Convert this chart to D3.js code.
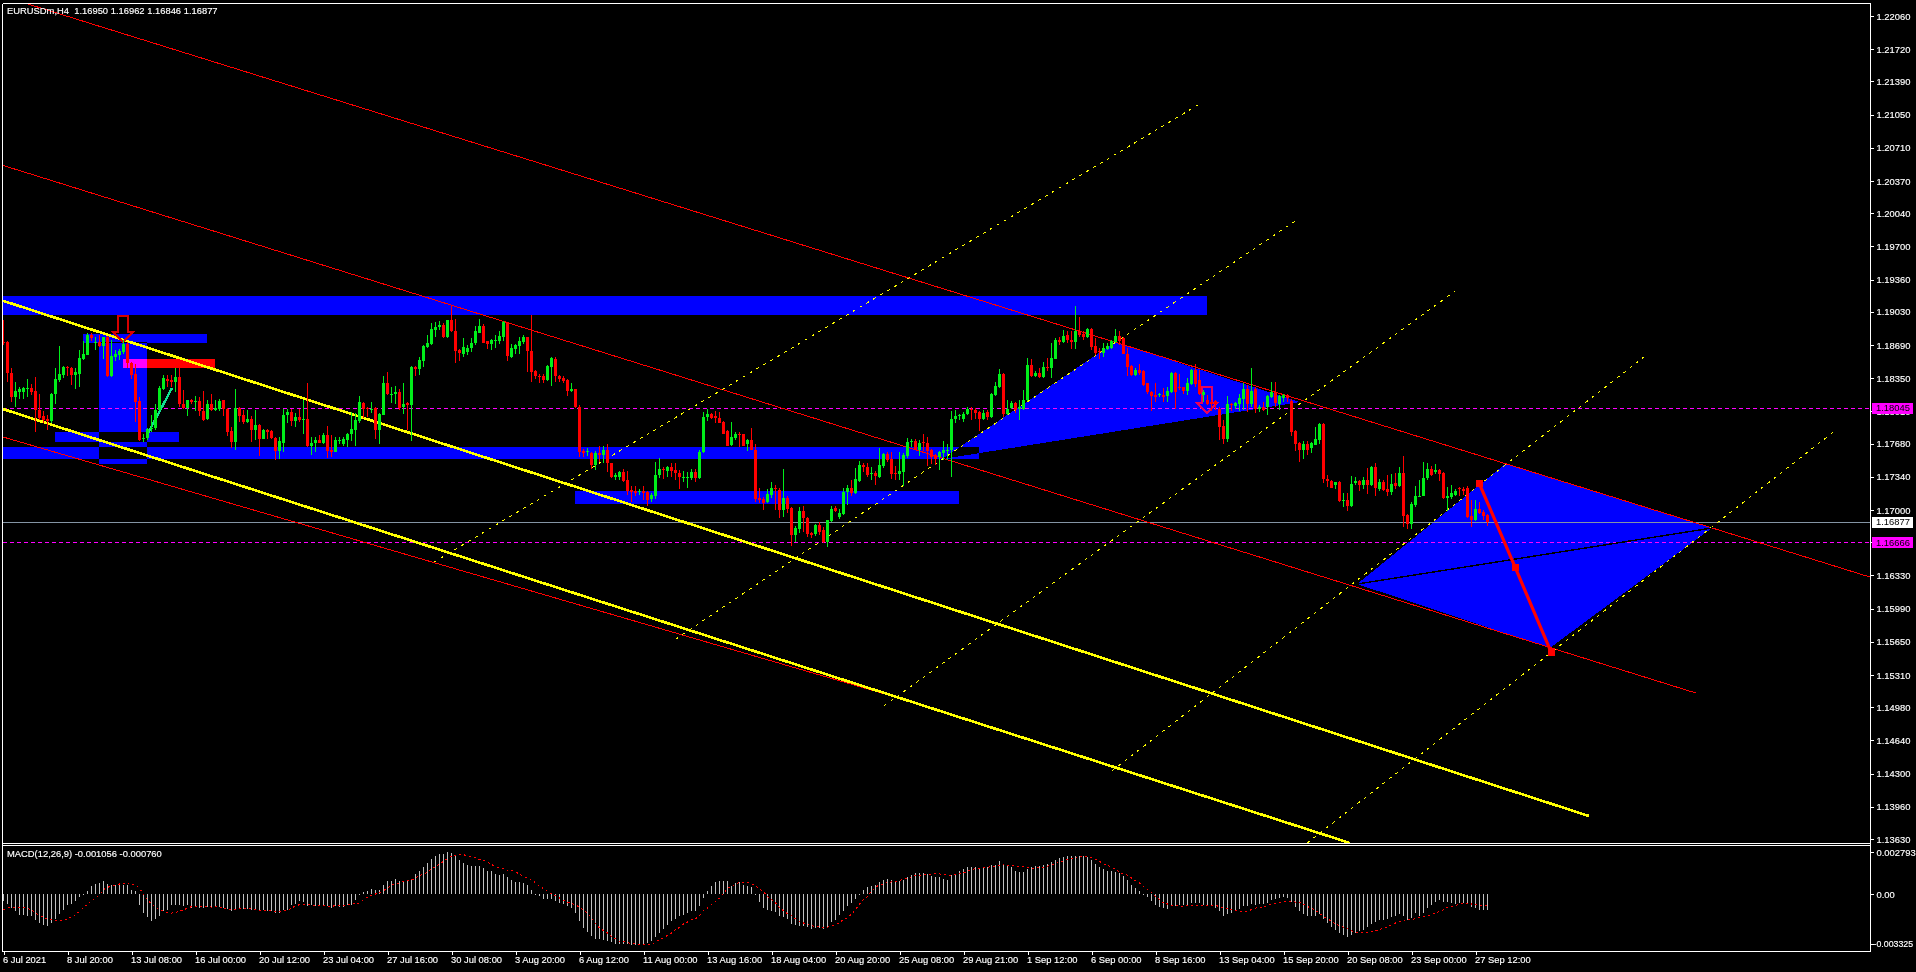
<!DOCTYPE html>
<html><head><meta charset="utf-8">
<script src="https://cdn.jsdelivr.net/npm/d3@7"></script>
<style>
html,body{margin:0;padding:0;background:#000;overflow:hidden}
svg{display:block}
text{font-family:"Liberation Sans",Arial,sans-serif;font-size:9.4px;fill:#fff}
.axis path.domain{display:none}
.axis line{stroke:#fff;shape-rendering:crispEdges}
.axis text{fill:#fff;font-family:"Liberation Sans",Arial,sans-serif;font-size:9.4px}
.light{stroke:#fff;stroke-width:.15px}
</style></head><body>
<script>
// ---- candles: EURUSDm H4, quoted as 1.1000 + n * 0.0001 ----
const opens=[872,872,840,816,821,821,824,825,822,802,
796,793,791,819,833,838,847,846,838,839,
855,859,879,871,872,868,877,837,857,859,
862,870,851,839,812,773,774,783,784,802,
824,834,833,831,836,809,805,813,811,812,
801,793,809,802,804,813,804,781,770,805,
797,790,793,782,787,773,782,781,774,760,
769,797,800,791,795,793,793,766,769,772,
769,777,761,759,771,768,772,778,782,791,
810,805,804,805,782,797,830,819,819,821,
806,810,808,847,844,853,867,870,884,887,
890,877,895,883,864,860,862,866,871,881,
889,873,870,874,873,877,892,857,865,868,
872,877,863,842,837,837,833,847,855,837,
835,833,822,824,806,760,759,758,746,758,
756,762,748,734,734,739,731,721,720,718,
720,718,711,714,736,742,740,744,741,738,
734,734,733,739,733,759,795,798,796,794,
790,781,767,774,778,778,768,772,762,712,
711,708,715,723,721,700,712,702,674,681,
699,692,676,675,685,680,667,689,702,693,
696,718,723,717,730,746,744,737,738,734,
745,757,752,738,737,739,755,770,771,761,
770,769,761,756,754,758,761,761,793,796,
793,798,803,802,800,793,800,795,818,826,
839,798,805,810,803,804,813,849,837,840,
836,847,845,855,874,872,879,874,872,883,
880,877,885,868,863,861,865,866,872,878,
876,860,848,838,843,842,830,821,818,818,
818,817,821,840,826,826,822,829,843,833,
818,813,811,812,804,786,773,809,807,809,
814,824,809,824,804,806,806,816,821,809,
815,818,812,781,769,762,768,764,767,772,
788,732,730,726,729,710,710,704,728,730,
726,731,726,744,722,729,722,718,728,725,
738,695,686,705,714,714,733,742,739,741,
738,712,713,715,723,722,723,694,690,701,698,695];
const highs=[895,873,846,831,826,826,834,829,836,819,
801,797,820,845,868,848,848,847,846,864,
873,881,881,877,879,877,878,874,864,865,
874,872,852,850,816,778,784,797,809,827,
838,838,838,846,846,823,813,814,817,816,
822,813,819,813,814,813,805,785,824,806,
802,802,796,802,788,783,783,782,775,775,
803,804,804,799,804,813,830,775,775,777,
779,786,777,775,775,775,779,800,799,817,
811,806,811,806,799,837,841,826,827,824,
830,811,848,848,857,869,879,892,893,894,
892,895,910,896,865,876,869,876,888,896,
891,873,875,879,883,894,893,870,870,877,
879,877,900,843,839,839,849,857,857,838,
837,834,830,824,808,763,764,759,760,766,
766,768,748,738,740,742,740,725,725,722,
725,720,717,749,753,744,745,748,748,741,
740,739,742,742,762,800,803,799,801,800,
791,782,790,780,780,778,773,784,768,723,
713,722,729,726,723,742,714,703,684,703,
704,693,678,686,688,683,690,704,704,701,
723,726,731,743,750,748,748,744,740,764,
758,759,759,745,759,758,774,773,773,772,
778,775,763,757,760,771,768,801,802,798,
800,806,806,805,801,802,802,820,831,844,
840,813,812,811,813,823,856,855,842,845,
852,856,871,876,877,884,883,883,909,898,
883,886,886,876,866,871,871,874,885,883,
877,866,849,845,850,843,830,822,830,820,
825,826,841,841,839,826,835,844,850,843,
823,818,813,813,806,792,817,810,811,819,
830,828,845,826,808,811,818,831,831,818,
819,819,814,782,770,771,771,770,785,789,
789,736,731,729,730,717,717,735,734,731,
734,743,745,748,732,731,736,737,738,744,
755,696,708,725,731,749,748,745,747,742,
739,724,726,722,724,724,725,710,710,708,700,696];
const lows=[869,831,811,806,814,814,816,818,780,792,
789,782,789,809,831,835,837,828,824,826,
854,859,873,864,867,855,836,836,853,854,
860,846,834,790,771,770,772,780,782,802,
823,826,826,821,806,803,796,809,801,796,
791,792,801,801,801,796,776,764,762,790,
788,789,770,772,755,773,773,773,751,752,
759,789,786,785,790,778,765,756,759,769,
768,753,754,759,768,766,765,771,766,789,
794,795,799,773,768,797,818,810,809,802,
798,782,771,837,838,847,866,869,877,884,
876,876,882,851,853,857,859,862,869,881,
871,865,864,866,870,873,853,856,860,860,
870,841,831,834,830,830,832,827,831,831,
830,817,821,805,754,754,755,742,741,749,
748,739,733,731,731,729,715,708,714,715,
710,704,708,711,733,732,734,734,731,722,
729,723,731,729,732,758,791,793,789,789,
778,766,766,772,765,766,760,761,708,707,
700,707,712,700,692,693,697,663,667,676,
678,672,671,673,674,666,662,688,698,691,
695,705,714,716,729,739,734,731,726,733,
743,749,732,731,731,725,753,765,761,755,
760,745,747,746,741,751,751,734,789,792,
790,797,792,793,781,792,792,794,817,825,
795,797,804,799,792,802,812,836,836,835,
835,842,835,855,869,871,871,865,865,877,
874,876,864,859,855,857,864,865,871,869,
860,837,837,837,838,827,819,801,811,816,
811,811,820,804,823,819,818,828,826,818,
811,808,801,802,772,768,770,801,804,801,
802,800,806,799,800,801,797,815,806,802,
811,811,776,760,749,752,756,758,767,768,
728,724,723,722,708,703,699,703,726,720,
722,716,725,714,720,720,714,715,722,724,
683,681,681,703,714,714,731,735,737,730,
711,699,711,714,714,715,692,683,689,696,690,684];
const closes=[871,840,816,822,824,825,825,821,802,794,
792,791,819,834,839,847,846,838,841,856,
860,879,876,872,868,877,837,858,860,863,
870,851,838,811,772,774,783,784,802,825,
835,832,831,836,809,805,813,811,812,801,
792,809,802,805,812,804,780,770,805,796,
790,793,782,787,773,782,780,774,760,771,
797,800,791,795,792,793,766,769,772,769,
777,760,759,772,772,773,778,783,792,811,
804,804,804,782,798,830,819,819,821,805,
809,808,847,844,854,868,871,885,887,890,
877,895,883,863,861,867,866,871,883,889,
871,870,874,874,878,893,858,866,869,873,
877,863,841,837,836,833,848,856,837,834,
832,822,824,806,759,758,760,746,758,756,
762,748,734,736,739,730,720,719,717,720,
717,710,715,736,742,741,744,740,738,734,
734,734,739,733,759,795,798,794,794,789,
778,766,775,778,777,766,772,761,711,710,
707,716,723,722,700,712,701,674,682,699,
692,675,674,685,678,667,690,701,699,697,
719,723,717,732,746,744,736,738,735,746,
757,751,737,737,740,756,770,771,761,769,
769,760,754,752,759,761,762,793,796,797,
798,803,802,799,793,799,795,819,827,839,
798,804,810,802,806,813,849,837,840,836,
847,845,856,874,872,878,874,872,883,879,
877,885,867,861,862,866,868,873,878,873,
860,847,838,843,840,828,821,817,816,819,
816,822,840,821,825,822,830,843,829,819,
821,809,809,809,785,773,809,808,810,815,
824,809,822,804,806,802,817,821,810,817,
818,815,780,768,761,768,762,769,773,788,
732,730,723,729,709,710,704,727,730,726,
731,726,744,723,729,721,718,727,725,738,
694,686,706,714,714,733,742,736,741,737,
712,714,717,720,722,720,693,690,701,697,694,688];
const priceBase=1.1, priceStep=0.0001;

// ---- MACD(12,26,9), in steps of macdStep ----
const macdStep=2.22e-5;
const macdHist=[-20,-30,-42,-52,-62,-64,-65,-67,-77,-87,
-92,-97,-87,-74,-60,-47,-34,-30,-22,-10,
0,10,24,30,33,40,30,26,26,26,
28,28,13,8,-32,-57,-70,-80,-74,-67,
-52,-47,-34,-32,-32,-37,-34,-42,-40,-42,
-42,-40,-38,-40,-40,-42,-44,-52,-47,-44,
-44,-44,-47,-44,-48,-48,-50,-52,-58,-57,
-47,-47,-32,-30,-22,-24,-37,-32,-37,-34,
-34,-37,-42,-37,-40,-40,-34,-32,-17,-2,
5,10,16,13,13,28,38,40,46,38,
40,38,45,60,68,81,93,106,113,120,
121,126,123,113,103,93,86,83,83,85,
78,70,68,60,58,
61,50,43,37,36,33,28,13,1,-7,
-16,-16,-15,-20,-27,-30,-37,-42,-57,-80,
-102,-114,-127,-134,-136,-137,-140,-145,-149,-149,
-150,-149,-152,-154,-152,-149,-147,-142,-130,-117,
-104,-92,-80,-74,-67,-62,-57,-52,-50,-37,
-12,8,23,35,40,40,38,23,33,36,
28,25,20,1,-24,-42,-49,-52,-55,-67,
-70,-74,-89,-94,-95,-95,-100,-104,-102,-102,
-104,-99,-84,-77,-64,-52,-37,-27,-14,1,
13,20,25,28,35,43,46,42,40,40,
42,52,58,62,64,64,60,55,50,50,
46,43,56,60,70,76,82,82,82,78,
78,82,86,88,98,
88,83,80,70,65,65,76,81,85,85,
88,90,95,103,108,111,115,115,115,115,
113,110,103,91,81,76,70,68,66,64,
55,43,28,18,10,1,-10,-22,-32,-39,
-42,-44,-35,-35,-34,-34,-32,-26,-28,-27,
-32,-36,-37,-42,-52,-65,-60,-57,-52,-44,
-37,-36,-30,-32,-30,-30,-27,-17,-15,-12,
-10,-12,-24,-38,-52,-60,-66,-67,-67,-60,
-76,-87,-100,-107,-116,-124,-130,-124,-117,-112,
-107,-100,-89,-85,-79,-79,-74,-69,-67,-60,
-67,-77,-72,-57,-67,-57,-42,-32,-24,-17,
-24,-24,-27,-30,-28,-27,-30,-40,-42,-47,
-47,-48];
const macdSignal=[-47,-42,-39,-39,-39,-40,-44,-47,-57,-64,
-70,-74,-77,-80,-81,-80,-74,-69,-62,-52,
-42,-30,-20,-12,-2,13,20,24,26,30,
31,33,30,26,18,-2,-17,-30,-40,-47,
-52,-56,-57,-55,-52,-48,-42,-38,-36,-37,
-38,-38,-39,-38,-40,-44,-45,-45,-45,-44,
-44,-44,-45,-47,-48,-49,-49,-51,-52,-52,
-50,-49,-42,-36,-32,-32,-32,-33,-34,-34,
-35,-36,-37,-35,-34,-34,-32,-29,-30,-27,
-17,-10,-4,0,3,10,18,26,30,33,
38,40,42,48,56,58,66,76,80,90,
98,106,114,116,118,118,113,111,108,103,
100,96,88,83,78,
76,71,70,66,60,53,48,43,33,23,
16,8,0,-4,-12,-19,-24,-29,-32,-40,
-49,-57,-72,-89,-102,-110,-117,-127,-134,-142,
-143,-145,-149,-150,-152,-152,-152,-150,-144,-137,
-132,-124,-117,-107,-100,-90,-84,-77,-74,-64,
-50,-42,-32,-22,-12,3,16,23,30,35,
35,35,31,23,16,6,-7,-17,-27,-40,
-50,-59,-64,-74,-82,-87,-92,-95,-97,-99,
-99,-99,-95,-92,-85,-77,-72,-60,-47,-30,
-17,-7,8,20,28,30,35,36,36,40,
46,48,51,56,56,58,58,60,60,60,
58,56,56,58,60,63,68,73,76,76,
78,80,82,84,84,
87,86,84,84,82,81,80,77,78,78,
80,83,88,91,96,99,103,106,110,113,
114,112,108,104,98,90,86,80,73,66,
60,56,48,40,33,23,13,5,-7,-17,
-27,-30,-34,-35,-36,-36,-35,-34,-33,-34,
-34,-34,-34,-34,-38,-42,-42,-47,-50,-51,
-51,-51,-47,-42,-41,-38,-35,-30,-28,-26,
-24,-22,-22,-24,-25,-30,-38,-42,-49,-57,
-67,-74,-82,-89,-95,-99,-104,-110,-114,-115,
-117,-116,-112,-110,-106,-102,-99,-92,-87,-82,
-78,-78,-76,-74,-70,-67,-65,-62,-57,-52,
-47,-40,-37,-35,-30,-27,-27,-30,-32,-34,
-34,-34];

// ---- axis labels ----
const priceTicks=[1.2206,1.2172,1.2139,1.2105,1.2071,1.2037,1.2004,1.197,1.1936,1.1903,1.1869,1.1835,1.1801,1.1768,1.1734,1.17,1.1667,1.1633,1.1599,1.1565,1.1531,1.1498,1.1464,1.143,1.1396,1.1363];
const timeLabels=["6 Jul 2021","8 Jul 20:00","13 Jul 08:00","16 Jul 00:00","20 Jul 12:00","23 Jul 04:00","27 Jul 16:00","30 Jul 08:00","3 Aug 20:00","6 Aug 12:00","11 Aug 00:00","13 Aug 16:00","18 Aug 04:00","20 Aug 20:00","25 Aug 08:00","29 Aug 21:00","1 Sep 12:00","6 Sep 00:00","8 Sep 16:00","13 Sep 04:00","15 Sep 20:00","20 Sep 08:00","23 Sep 00:00","27 Sep 12:00"];
const barsPerLabel=16;
const macdTicks=[0.002793,0,-0.003325];
const macdTickText=["0.002793","0.00","-0.003325"];
const titleText="EURUSDm,H4  1.16950 1.16962 1.16846 1.16877";
const macdTitle="MACD(12,26,9) -0.001056 -0.000760";

// ---- levels and drawn objects, as [bar, price] anchors ----
const dashedLevels=[1.18045,1.16666];
const lastPrice=1.16877;
const redLines=[[[5.375,1.22192],[466.6,1.16314]],[[-0.375,1.20533],[423.1,1.15126]],[[-0.1,1.17748],[234.1,1.14952]]];
const yellowLines=[[[-0.1,1.19143],[396.4,1.13866]],[[-0.1,1.18034],[336.6,1.1359]]];
const dottedLines=[[[107.6,1.16467],[299.4,1.21168]],[[168.1,1.15679],[322.9,1.1996]],[[220.1,1.14993],[362.9,1.19243]],[[277.1,1.14327],[410.1,1.18567]],[[325.9,1.1359],[458.4,1.17829]]];
const blueZones=[[-0.125,300.9,1.19192,1.18997],[19.9,50.9,1.18802,1.1871],[23.9,35.9,1.1872,1.17471],[-0.125,243.9,1.17645,1.17522],[12.9,43.9,1.17799,1.17696],[142.9,238.9,1.17195,1.17061]];
const redZones=[[29.9,52.9,1.18546,1.18454]];
const bluePolygons=[[[234.6,1.17522],[277.9,1.1872],[324.1,1.18106]],[[338.4,1.16242],[375.4,1.17471],[427.1,1.16816],[386.6,1.15587]]];
const blackDiagonal=[[338.4,1.16242],[427.1,1.16816]];
const zigzag=[[368.9,1.17276],[377.9,1.16416],[386.9,1.15546]];
const greenSegment=[[35.9,1.17768],[42.1,1.18249]];
const downArrows=[{bar:29.9,price:1.1872,color:"#d80000"},{bar:300.9,price:1.17993,color:"#e6005c"}];

const W=1916,H=972,axisX=1870,mainTop=3,mainBottom=843,subTop=845,subBottom=951;
const svg=d3.select("body").append("svg").attr("width",W).attr("height",H).style("background","#000");
const x=d3.scaleLinear().domain([0,371]).range([3.5,1487.5]);
const y=d3.scaleLinear().domain([1.2206,1.1363]).range([16,839.1]);
const my=d3.scaleLinear().domain([-0.003325,0.002793]).range([944,852]);
const pv=n=>priceBase+n*priceStep;
const pt=d=>[x(d[0]),y(d[1])];
const line=d3.line().x(d=>x(d[0])).y(d=>y(d[1]));

svg.append("defs").append("clipPath").attr("id","main").append("rect")
  .attr("x",3).attr("y",mainTop+1).attr("width",axisX-3).attr("height",mainBottom-mainTop-1);

const plot=svg.append("g").attr("clip-path","url(#main)");
// zones combine by colour difference, the way the terminal XORs filled objects
const zones=plot.append("g").style("isolation","isolate").attr("shape-rendering","crispEdges");
const zoneRect=(z,c)=>zones.append("rect").attr("x",x(z[0])).attr("width",x(z[1])-x(z[0]))
  .attr("y",y(z[2])).attr("height",y(z[3])-y(z[2])).attr("fill",c).style("mix-blend-mode","difference");
blueZones.forEach(z=>zoneRect(z,"#0000ff"));
redZones.forEach(z=>zoneRect(z,"#ff0000"));
bluePolygons.forEach(p=>zones.append("polygon").attr("points",p.map(pt).map(q=>q.join(",")).join(" "))
  .attr("fill","#0000ff").style("mix-blend-mode","difference"));

const lines=plot.append("g").attr("fill","none").attr("shape-rendering","crispEdges");
dashedLevels.forEach(l=>lines.append("line").attr("x1",3).attr("x2",axisX).attr("y1",y(l)).attr("y2",y(l))
  .attr("stroke","#ff00ff").attr("stroke-dasharray","4 3"));
lines.append("line").attr("x1",3).attr("x2",axisX).attr("y1",y(lastPrice)).attr("y2",y(lastPrice)).attr("stroke","#8494a4");
redLines.forEach(l=>lines.append("path").attr("d",line(l)).attr("stroke","#ff0000"));
dottedLines.forEach(l=>lines.append("path").attr("d",line(l)).attr("stroke","#ffff00").attr("stroke-dasharray","3 5"));
yellowLines.forEach(l=>lines.append("path").attr("d",line(l)).attr("stroke","#ffff00").attr("stroke-width",2.6));
lines.append("path").attr("d",line(blackDiagonal)).attr("stroke","#000").attr("stroke-width",1.4);
lines.append("path").attr("d",line(greenSegment)).attr("stroke","#10e090").attr("stroke-width",2.4);
downArrows.forEach(a=>{
  const p=d3.path(),X=x(a.bar),Y=y(a.price);
  p.moveTo(X,Y);
  [[-10,-10],[-5,-10],[-5,-26],[5,-26],[5,-10],[10,-10]].forEach(o=>p.lineTo(X+o[0],Y+o[1]));
  p.closePath();
  lines.append("path").attr("d",p.toString()).attr("stroke",a.color).attr("stroke-width",2);
});

// candles
const bars=d3.range(closes.length);
const cg=plot.append("g").attr("shape-rendering","crispEdges");
const col=i=>closes[i]>=opens[i]?"#00ee1a":"#ff0000";
cg.selectAll(".w").data(bars).join("rect").attr("x",i=>Math.floor(x(i))).attr("width",1)
  .attr("y",i=>y(pv(highs[i]))).attr("height",i=>Math.max(1,y(pv(lows[i]))-y(pv(highs[i])))).attr("fill",col);
cg.selectAll(".b").data(bars).join("rect").attr("x",i=>Math.floor(x(i))-1).attr("width",3)
  .attr("y",i=>y(pv(Math.max(opens[i],closes[i])))).attr("height",i=>Math.max(1,Math.abs(y(pv(opens[i]))-y(pv(closes[i]))))).attr("fill",col);

// zigzag on top
const zg=plot.append("g");
zg.append("path").attr("d",line(zigzag)).attr("fill","none").attr("stroke","#ff0000").attr("stroke-width",3.2);
zg.selectAll("rect").data(zigzag).join("rect").attr("x",d=>x(d[0])-3.5).attr("y",d=>y(d[1])-3.5).attr("width",7).attr("height",7).attr("fill","#ff0000").attr("shape-rendering","crispEdges");

// MACD
const sub=svg.append("g").attr("shape-rendering","crispEdges");
sub.selectAll("rect").data(macdHist).join("rect").attr("x",(d,i)=>Math.floor(x(i))).attr("width",1)
  .attr("y",d=>Math.min(my(0),my(d*macdStep))).attr("height",d=>Math.max(1,Math.abs(my(d*macdStep)-my(0)))).attr("fill","#c0c0c0");
sub.append("path").attr("d",d3.line().x((d,i)=>x(i)).y(d=>my(d*macdStep))(macdSignal))
  .attr("fill","none").attr("stroke","#ff0000").attr("stroke-dasharray","2 3");

// frame
const frame=svg.append("g").attr("stroke","#fff").attr("shape-rendering","crispEdges");
[[2.5,mainTop+.5,2.5,subBottom+.5],[axisX+.5,mainTop+.5,axisX+.5,subBottom+.5],[2.5,mainTop+.5,axisX+.5,mainTop+.5],
 [2.5,mainBottom+.5,axisX+.5,mainBottom+.5],[2.5,subTop+.5,axisX+.5,subTop+.5],[2.5,subBottom+.5,axisX+.5,subBottom+.5]]
 .forEach(s=>frame.append("line").attr("x1",s[0]).attr("y1",s[1]).attr("x2",s[2]).attr("y2",s[3]));

// axes
const pAxis=svg.append("g").attr("class","axis").attr("transform",`translate(${axisX+.5},0)`)
  .call(d3.axisRight(y).tickValues(priceTicks).tickFormat(d3.format(".5f")).tickSize(3).tickPadding(3));
const mAxis=svg.append("g").attr("class","axis").attr("transform",`translate(${axisX+.5},0)`)
  .call(d3.axisRight(my).tickValues(macdTicks).tickFormat((d,i)=>macdTickText[i]).tickSize(3).tickPadding(3));
mAxis.selectAll("text").filter((d,i)=>i===2).attr("dx",-3).style("font-size","8.8px");
const tAxis=svg.append("g").attr("class","axis").attr("transform",`translate(0,${subBottom+.5})`)
  .call(d3.axisBottom(x).tickValues(timeLabels.map((_,i)=>i*barsPerLabel)).tickFormat((d,i)=>timeLabels[i]).tickSize(3).tickPadding(2));
tAxis.selectAll("text").attr("text-anchor","start").attr("dx",-1);
tAxis.selectAll("text").filter((d,i)=>i===timeLabels.length-1).attr("dx",-1);
[pAxis,mAxis,tAxis].forEach(a=>a.selectAll("text").classed("light",true));

// price boxes
const boxes=[{p:dashedLevels[0],bg:"#ff00ff"},{p:lastPrice,bg:"#ffffff"},{p:dashedLevels[1],bg:"#ff00ff"}];
const bg=svg.append("g");
boxes.forEach(b=>{
  bg.append("rect").attr("x",axisX+2).attr("y",y(b.p)-5.5).attr("width",41).attr("height",11).attr("fill",b.bg).attr("shape-rendering","crispEdges");
  bg.append("text").attr("x",axisX+6).attr("y",y(b.p)+3.4).style("fill","#000").text(d3.format(".5f")(b.p));
});

// titles
svg.append("text").attr("class","light").attr("x",7).attr("y",14).style("white-space","pre").text(titleText);
svg.append("text").attr("class","light").attr("x",7).attr("y",857).text(macdTitle);
</script>
</body></html>
